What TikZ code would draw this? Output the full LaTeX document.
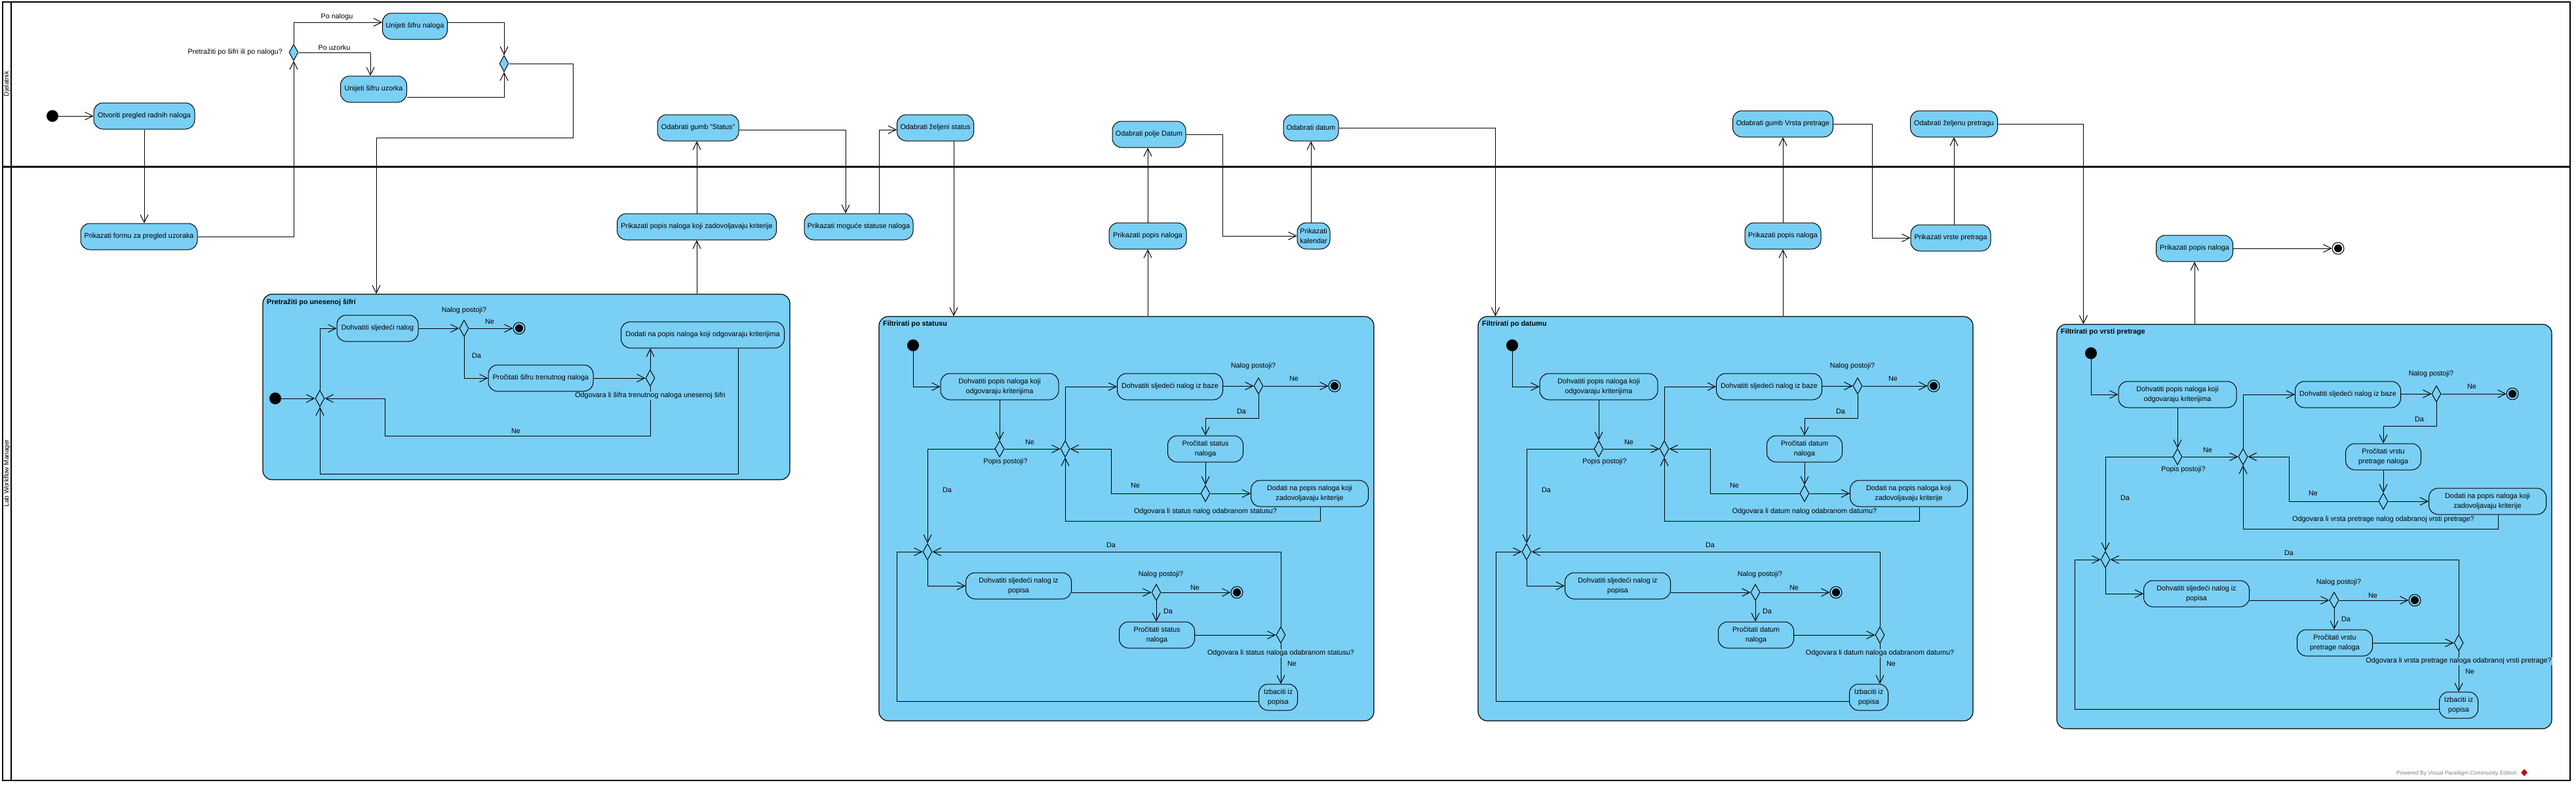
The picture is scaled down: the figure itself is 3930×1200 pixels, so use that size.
\documentclass[tikz,border=0pt]{standalone}
\usepackage{fontspec}
\setmainfont{Liberation Sans}
\usetikzlibrary{arrows.meta,shapes.geometric,calc}
\definecolor{vpblue}{HTML}{7ACFF5}
\newcommand{\vpf}{\fontsize{10.8}{15}\selectfont}
\tikzset{
  act/.style={draw=black, fill=vpblue, rounded corners=14pt, line width=1pt, minimum height=40pt, inner sep=2pt, align=center, font=\vpf},
  comp/.style={draw=black, fill=vpblue, rounded corners=14pt, line width=1.2pt, inner sep=0pt},
  dec/.style={diamond, draw=black, fill=vpblue, line width=1pt, minimum width=14pt, minimum height=25pt, inner sep=0pt},
  initn/.style={circle, fill=black, minimum size=18pt, inner sep=0pt},
  finaln/.style={circle, draw=black, line width=1pt, minimum size=18pt, inner sep=0pt, path picture={\fill[black] (path picture bounding box.center) circle (6pt);}},
  conn/.style={draw=black, line width=1pt, -{Straight Barb[length=12pt,width=12pt]}},
  lbl/.style={font=\vpf, inner sep=1pt},
  lblf/.style={font=\vpf, inner sep=1pt, fill=vpblue},
  ttl/.style={font=\vpf\bfseries, anchor=west, inner sep=0pt},
}
\newcommand{\filterblock}[8]{%
\begin{scope}[shift={(#2,#3)}]
  \node[comp, minimum width=755pt, minimum height=617pt] (#1box) at (1718.5,791.5) {};
  \node[ttl] (#1title) at (1347,495) {#4};
  \node[initn] (#1init) at (1393,527) {};
  \node[act, minimum width=180pt] (#1A) at (1525,590) {Dohvatiti popis naloga koji\\odgovaraju kriterijima};
  \node[dec] (#1D1) at (1525,685) {};
  \node[dec] (#1M1) at (1625,685) {};
  \node[act, minimum width=161pt] (#1B) at (1785,590) {Dohvatiti sljedeći nalog iz baze};
  \node[dec] (#1D2) at (1920,589) {};
  \node[finaln] (#1F1) at (2036,589) {};
  \node[act, minimum width=115pt] (#1C) at (1839,685) {#5};
  \node[dec] (#1D3) at (1839,753) {};
  \node[act, minimum width=179pt] (#1E) at (1998,753) {Dodati na popis naloga koji\\zadovoljavaju kriterije};
  \node[dec] (#1M2) at (1415,842) {};
  \node[act, minimum width=161pt] (#1G) at (1554,894) {Dohvatiti sljedeći nalog iz\\popisa};
  \node[dec] (#1D4) at (1764,904) {};
  \node[finaln] (#1F2) at (1887,904) {};
  \node[act, minimum width=115pt] (#1H) at (1765,969) {#5};
  \node[dec] (#1D5) at (1954,969) {};
  \node[act, minimum width=59pt] (#1I) at (#8,1064) {Izbaciti iz\\popisa};
  \coordinate (#1k) at (1368,1070);
  \draw[conn] (#1init.south) |- (#1A.west);
  \draw[conn] (#1A.south) -- (#1D1.north);
  \draw[conn] (#1D1.east) -- (#1M1.west);
  \draw[conn] (#1M1.north) |- (#1B.west);
  \draw[conn] (#1B.east |- #1D2.west) -- (#1D2.west);
  \draw[conn] (#1D2.east) -- (#1F1.west);
  \draw[conn] (#1D2.south) -- ++(0,36) -| (#1C.north);
  \draw[conn] (#1C.south) -- (#1D3.north);
  \draw[conn] (#1D3.east) -- (#1E.west);
  \draw[conn] (#1D3.west) -- ++(-136,0) |- (#1M1.east);
  \draw[conn] ([xshift=16pt]#1E.south) -- ++(0,22) -| (#1M1.south);
  \draw[conn] (#1D1.west) -| (#1M2.north);
  \draw[conn] (#1M2.south) |- (#1G.west);
  \draw[conn] ([yshift=-10pt]#1G.east) -- (#1D4.west);
  \draw[conn] (#1D4.east) -- (#1F2.west);
  \draw[conn] (#1D4.south) -- (#1D4.south |- #1H.north);
  \draw[conn] (#1H.east) -- (#1D5.west);
  \draw[conn] (#1D5.south) -- (#1D5.south |- #1I.north);
  \draw[conn] (#1D5.north) |- (#1M2.east);
  \draw[conn] ([yshift=-6pt]#1I.west) -- (#1k) |- (#1M2.west);
  \node[lbl] (#1l1) at (1534,705) {Popis postoji?};
  \node[lbl] (#1l2) at (1571,675) {Ne};
  \node[lbl] (#1l3) at (1445,748) {Da};
  \node[lbl] (#1l4) at (1912,559) {Nalog postoji?};
  \node[lbl] (#1l5) at (1974,578) {Ne};
  \node[lbl] (#1l6) at (1894,628) {Da};
  \node[lbl] (#1l7) at (1732,741) {Ne};
  \node[lbl] (#1l8) at (1839,781) {#6};
  \node[lbl] (#1l9) at (1695,832) {Da};
  \node[lbl] (#1l10) at (1771,877) {Nalog postoji?};
  \node[lbl] (#1l11) at (1823,897) {Ne};
  \node[lbl] (#1l12) at (1782,933) {Da};
  \node[lblf] (#1l13) at (1954,997) {#7};
  \node[lbl] (#1l14) at (1971,1013) {Ne};
\end{scope}}
\begin{document}
\begin{tikzpicture}[x=1pt,y=-1pt]
\useasboundingbox (0,0) rectangle (3930,1200);
% swimlane frame
\draw[line width=1.5pt] (4,3) rectangle (3921,1191);
\draw[line width=2pt] (17,3) -- (17,1191);
\draw[line width=3pt] (4,254) -- (3921,254);
\node[rotate=90, font=\fontsize{10}{12}\selectfont, inner sep=0pt] (lane1) at (10.5,128) {Djelatnik};
\node[rotate=90, font=\fontsize{10}{12}\selectfont, inner sep=0pt] (lane2) at (10.5,722) {Lab Workflow Manager};
\node[anchor=east, text=gray, font=\fontsize{8.5}{10}\selectfont, inner sep=0pt] (pw) at (3840,1180) {Powered By Visual Paradigm Community Edition};
\node[diamond, fill=red!80!black, minimum width=10pt, minimum height=11pt, inner sep=0pt] (logo) at (3851,1179) {};
% Djelatnik lane
\node[initn] (i0) at (80,177) {};
\node[act, minimum width=154pt] (a1) at (220,177) {Otvoriti pregled radnih naloga};
\node[act, minimum width=178pt] (a2) at (212,361) {Prikazati formu za pregled uzoraka};
\node[dec] (d1) at (448,80) {};
\node[act, minimum width=99pt] (a3) at (633,40) {Unijeti šifru naloga};
\node[act, minimum width=101pt] (a4) at (570,136) {Unijeti šifru uzorka};
\node[dec] (m1) at (769,97) {};
\coordinate (jA) at (574,210);
% upper activities
\node[act, minimum width=243pt] (p1) at (1063,346) {Prikazati popis naloga koji zadovoljavaju kriterije};
\node[act, minimum width=124pt] (o1) at (1065,195) {Odabrati gumb "Status"};
\node[act, minimum width=166pt] (p2) at (1310,346) {Prikazati moguće statuse naloga};
\node[act, minimum width=117pt] (o2) at (1427,195) {Odabrati željeni status};
\node[act, minimum width=118pt] (q1) at (1751,360) {Prikazati popis naloga};
\node[act, minimum width=112pt] (r1) at (1753,205) {Odabrati polje Datum};
\node[act, minimum width=50pt] (kal) at (2004,360) {Prikazati\\kalendar};
\node[act, minimum width=84pt] (r2) at (2000,195) {Odabrati datum};
\node[act, minimum width=116pt] (q2) at (2720,360) {Prikazati popis naloga};
\node[act, minimum width=153pt] (r3) at (2720,189) {Odabrati gumb Vrsta pretrage};
\node[act, minimum width=122pt] (q3) at (2976,363) {Prikazati vrste pretraga};
\node[act, minimum width=133pt] (r4) at (2981,189) {Odabrati željenu pretragu};
\node[act, minimum width=117pt] (p4) at (3348,379) {Prikazati popis naloga};
\node[finaln] (f0) at (3567,379) {};
% composite 1
\node[comp, minimum width=804pt, minimum height=283pt] (c1) at (803,590.5) {};
\node[ttl] (c1title) at (407,462) {Pretražiti po unesenoj šifri};
\node[initn] (c1init) at (420,608) {};
\node[dec] (c1M) at (488,608) {};
\node[act, minimum width=124pt] (c1A) at (576,501) {Dohvatiti sljedeći nalog};
\node[dec] (c1D1) at (708,501) {};
\node[finaln] (c1F) at (792,501) {};
\node[act, minimum width=160pt] (c1B) at (825,577) {Pročitati šifru trenutnog naloga};
\node[dec] (c1D2) at (992,577) {};
\node[act, minimum width=249pt] (c1C) at (1072,511) {Dodati na popis naloga koji odgovaraju kriterijima};
\coordinate (c1k) at (587,665);
\draw[conn] (c1init.east) -- (c1M.west);
\draw[conn] (c1M.north) |- (c1A.west);
\draw[conn] (c1A.east) -- (c1D1.west);
\draw[conn] (c1D1.east) -- (c1F.west);
\draw[conn] (c1D1.south) |- (c1B.west);
\draw[conn] (c1B.east) -- (c1D2.west);
\draw[conn] (c1D2.north) -- (c1D2.north |- c1C.south);
\draw[conn] (c1D2.south) |- (c1k) |- (c1M.east);
\draw[conn] ([xshift=54pt]c1C.south) -- ++(0,192) -| (c1M.south);
\node[lbl] (c1l1) at (708,474) {Nalog postoji?};
\node[lbl] (c1l2) at (747,491) {Ne};
\node[lbl] (c1l3) at (727,543) {Da};
\node[lbl] (c1l4) at (787,658) {Ne};
\node[lblf] (c1l5) at (992,604) {Odgovara li šifra trenutnog naloga unesenoj šifri};
% composites 2-4
\filterblock{c2}{0}{0}{Filtrirati po statusu}{Pročitati status\\naloga}{Odgovara li status nalog odabranom statusu?}{Odgovara li status naloga odabranom statusu?}{1950}
\filterblock{c3}{914}{0}{Filtrirati po datumu}{Pročitati datum\\naloga}{Odgovara li datum nalog odabranom datumu?}{Odgovara li datum naloga odabranom datumu?}{1937}
\filterblock{c4}{1797}{12}{Filtrirati po vrsti pretrage}{Pročitati vrstu\\pretrage naloga}{Odgovara li vrsta pretrage nalog odabranoj vrsti pretrage?}{Odgovara li vrsta pretrage naloga odabranoj vrsti pretrage?}{1954}
% top-level connectors
\draw[conn] (i0.east) -- (a1.west);
\draw[conn] (a1.south) -- (a1.south |- a2.north);
\draw[conn] (a2.east) -| (d1.south);
\draw[conn] (d1.north) |- ([yshift=6pt]a3.west);
\draw[conn] (d1.east) -| ([xshift=-5pt]a4.north);
\draw[conn] ([yshift=6pt]a3.east) -| (m1.north);
\draw[conn] ([yshift=-12pt]a4.east) -| (m1.south);
\draw[conn] (m1.east) -- ++(98,0) |- (jA) -- (jA |- c1.north);
\node[lbl, anchor=east] (dq) at (432,80) {Pretražiti po šifri ili po nalogu?};
\node[lbl] (pn) at (514,26) {Po nalogu};
\node[lbl] (pu) at (510,73) {Po uzorku};
\draw[conn] (p1.south |- c1.north) -- (p1.south);
\draw[conn] (p1.north) -- (p1.north |- o1.south);
\draw[conn] ([yshift=-3pt]o1.east) -| ([xshift=-20pt]p2.north);
\draw[conn] ([xshift=31pt]p2.north) |- ([yshift=-3pt]o2.west);
\coordinate (o2out) at ([xshift=28pt]o2.south);
\draw[conn] (o2out) -- (o2out |- c2box.north);
\draw[conn] (q1.south |- c2box.north) -- (q1.south);
\draw[conn] (q1.north) -- (q1.north |- r1.south);
\draw[conn] (r1.east) -- ++(56,0) |- (kal.west);
\draw[conn] (kal.north -| r2.south) -- (r2.south);
\coordinate (c3in) at ([xshift=27pt]c3box.north west);
\draw[conn] (r2.east) -| (c3in);
\draw[conn] (q2.south |- c3box.north) -- (q2.south);
\draw[conn] (q2.north) -- (q2.north |- r3.south);
\draw[conn] (r3.east) -- ++(59,0) |- (q3.west);
\draw[conn] (q3.north -| r4.south) -- (r4.south);
\coordinate (c4in) at ([xshift=41pt]c4box.north west);
\draw[conn] (r4.east) -| (c4in);
\draw[conn] (p4.south |- c4box.north) -- (p4.south);
\draw[conn] (p4.east) -- (f0.west);
\end{tikzpicture}
\end{document}
